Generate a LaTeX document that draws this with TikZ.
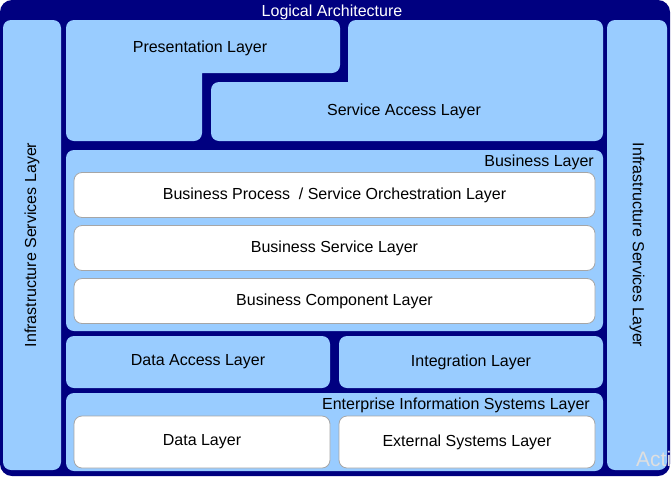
\documentclass[tikz,border=0pt]{standalone}
\usepackage{fontspec}
\setmainfont{Liberation Sans}
\definecolor{navy}{HTML}{000080}
\definecolor{lblue}{HTML}{99CCFF}
\begin{document}
\begin{tikzpicture}[x=1pt,y=-1pt,line join=round,
	layer/.style={fill=lblue,rounded corners=8pt,inner sep=0pt},
	sub/.style={fill=white,draw=gray!70,line width=.8pt,rounded corners=8pt,inner sep=0pt},
	txt/.style={font=\fontsize{16}{19}\selectfont,inner sep=0pt}]
	\def\xm{334.5} \def\wl{537} \def\ws{521}
	\useasboundingbox (0,0) rectangle (671,477);
	\fill[navy,rounded corners=12pt] (0,0) rectangle (670,476);
	\node[txt,text=white,anchor=base] (title) at (332,16) {Logical Architecture};
	% side columns
	\node[layer,txt,rotate=90,minimum width=450,minimum height=58] (infl) at (32,245) {Infrastructure Services Layer};
	\node[layer,txt,rotate=-90,minimum width=450,minimum height=60] (infr) at (637,245) {Infrastructure Services Layer};
	% presentation and service access
	\fill[lblue,rounded corners=8pt] (66,20) -- (340,20) -- (340,73) [sharp corners] -- (202,73) [rounded corners=8pt] -- (202,141) -- (66,141) -- cycle;
	\fill[lblue,rounded corners=8pt] (348,20) -- (603,20) -- (603,141) -- (211,141) -- (211,82) [sharp corners] -- (348,82) [rounded corners=8pt] -- cycle;
	\node[txt,anchor=base] (pres) at (200,52) {Presentation Layer};
	\node[txt,anchor=base] (sal) at (404,115) {Service Access Layer};
	% business layer
	\node[layer,minimum width=\wl,minimum height=181] (bus) at (\xm,240.5) {};
	\node[txt,anchor=base east] (busl) at (594,166) {Business Layer};
	\foreach \n/\y/\t in {bproc/195/{Business Process~ / Service Orchestration Layer},bsvc/248/{Business Service Layer},bcomp/301/{Business Component Layer}}
		\node[sub,txt,minimum width=\ws,minimum height=45] (\n) at (\xm,\y) {\t};
	\node[layer,txt,minimum width=264,minimum height=52] (dal) at (198,362) {Data Access Layer};
	\node[layer,txt,minimum width=264,minimum height=52] (intl) at (471,362) {Integration Layer};
	% enterprise information systems
	\node[layer,minimum width=\wl,minimum height=78] (eis) at (\xm,432) {};
	\node[txt,anchor=base east] (eisl) at (590,409) {Enterprise Information Systems Layer};
	\node[sub,txt,minimum width=256,minimum height=52] (data) at (202,442) {Data Layer};
	\node[sub,txt,minimum width=256,minimum height=52] (ext) at (467,442) {External Systems Layer};
	\node[font=\fontsize{21}{25}\selectfont,text=gray!25,anchor=base west,inner sep=0pt] (wm) at (636,466) {Acti};
\end{tikzpicture}
\end{document}
